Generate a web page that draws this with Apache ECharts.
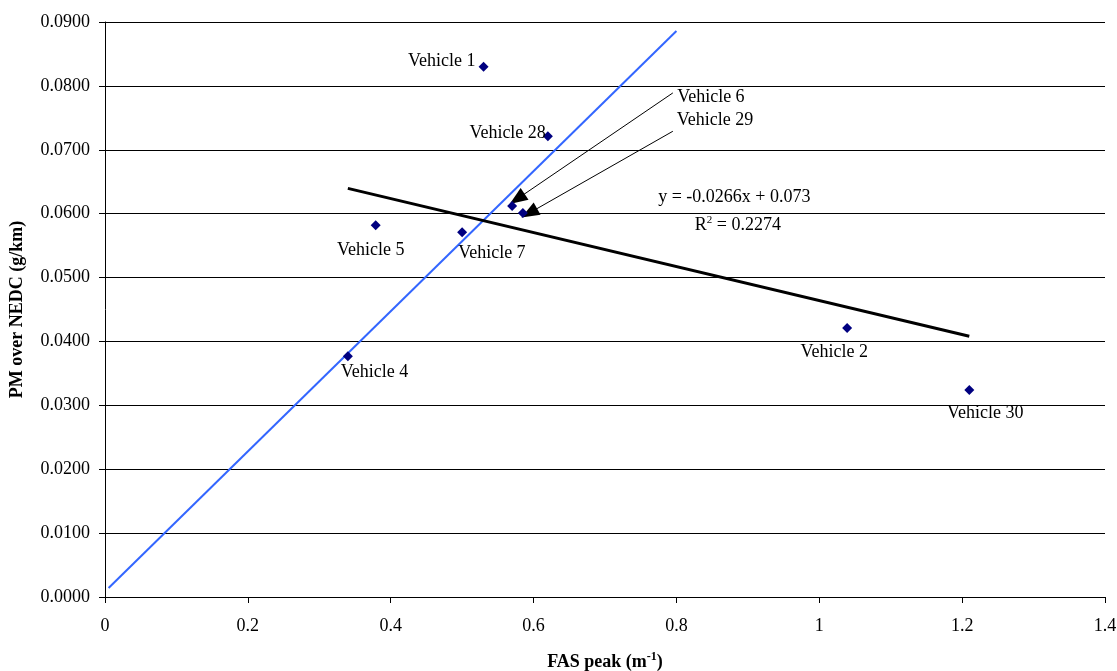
<!DOCTYPE html>
<html>
<head>
<meta charset="utf-8">
<script src="https://cdn.jsdelivr.net/npm/echarts@6/dist/echarts.min.js"></script>
<style>html,body{margin:0;padding:0;background:#fff}#c{width:1117px;height:671px}</style>
</head>
<body>
<div id="c"></div>
<script>
// ---- data ----
var vehicleNames = ['Vehicle 1','Vehicle 28','Vehicle 6','Vehicle 29','Vehicle 5','Vehicle 7','Vehicle 4','Vehicle 2','Vehicle 30'];
var fasPeak      = [0.530, 0.620, 0.570, 0.585, 0.379, 0.500, 0.340, 1.039, 1.210];
var pmNedc       = [0.0830, 0.0721, 0.0612, 0.0601, 0.0582, 0.0571, 0.0377, 0.0421, 0.0324];
// linear trend: y = -0.0266x + 0.073, drawn over the data x range
var trendSlope = -0.0266, trendIntercept = 0.073;
// blue reference line end points
var blueLineX = [0.005, 0.800];
var blueLineY = [0.0014, 0.0886];
// arrows (start -> tip) for Vehicle 6 and Vehicle 29
var arrow6  = [[0.795, 0.0789], [0.577, 0.0623]];
var arrow29 = [[0.795, 0.0729], [0.594, 0.0601]];
var xTicks = [0, 0.2, 0.4, 0.6, 0.8, 1, 1.2, 1.4];
var yTicks = [0, 0.01, 0.02, 0.03, 0.04, 0.05, 0.06, 0.07, 0.08, 0.09];

// label placement (style only)
var labelPlace = {
  'Vehicle 1':  {align:'right',  off:[-8,-5]},
  'Vehicle 28': {align:'right',  off:[-2,-3]},
  'Vehicle 6':  {align:'left',   off:[165,-109]},
  'Vehicle 29': {align:'left',   off:[154,-93]},
  'Vehicle 5':  {align:'center', off:[-5,25]},
  'Vehicle 7':  {align:'left',   off:[-4,21]},
  'Vehicle 4':  {align:'left',   off:[-7,16]},
  'Vehicle 2':  {align:'center', off:[-13,24]},
  'Vehicle 30': {align:'center', off:[16,23]}
};

var FONT = '"Liberation Serif", "Times New Roman", serif';

var scatterData = vehicleNames.map(function(n, i){
  var p = labelPlace[n];
  return {
    name: n,
    value: [fasPeak[i], pmNedc[i]],
    label: {show:true, formatter:n, position:'inside', offset:p.off, align:p.align,
            verticalAlign:'middle', color:'#000', fontFamily:FONT, fontSize:18}
  };
});

var xmin = Math.min.apply(null, fasPeak), xmax = Math.max.apply(null, fasPeak);
var trendData = [[xmin, trendSlope*xmin + trendIntercept],[xmax, trendSlope*xmax + trendIntercept]];
var blueData = blueLineX.map(function(x,i){return [x, blueLineY[i]];});

var chart = echarts.init(document.getElementById('c'));
chart.setOption({
  animation:false,
  backgroundColor:'#fff',
  grid:{left:105, right:12, top:22, bottom:74, containLabel:false, outerBoundsMode:'none'},
  xAxis:{
    type:'value', min:0, max:1.4, interval:0.2,
    axisLine:{show:true, lineStyle:{color:'#000', width:1}},
    axisTick:{show:true, inside:false, length:6, lineStyle:{color:'#000'}},
    splitLine:{show:false},
    axisLabel:{color:'#000', fontFamily:FONT, fontSize:18, margin:20},
    name:'{b|FAS peak (m}{s|-1}{b|)}',
    nameLocation:'middle', nameGap:54,
    nameTextStyle:{
      rich:{
        b:{fontFamily:FONT, fontSize:18, fontWeight:'bold', color:'#000'},
        s:{fontFamily:FONT, fontSize:12, fontWeight:'bold', color:'#000', verticalAlign:'top', padding:[0,0,10,0]}
      }
    }
  },
  yAxis:{
    type:'value', min:0, max:0.09, interval:0.01,
    axisLine:{show:true, lineStyle:{color:'#000', width:1}},
    axisTick:{show:true, inside:false, length:6, lineStyle:{color:'#000'}},
    splitLine:{show:true, lineStyle:{color:'#000', width:1}},
    axisLabel:{color:'#000', fontFamily:FONT, fontSize:18, margin:15,
               formatter:function(v){return v.toFixed(4);}},
    name:'PM over NEDC (g/km)', nameLocation:'middle', nameGap:79, nameRotate:90,
    nameTextStyle:{fontFamily:FONT, fontSize:18, fontWeight:'bold', color:'#000'}
  },
  series:[
    {
      type:'line', data:blueData, symbol:'none', silent:true,
      lineStyle:{color:'#3366FF', width:2}, z:3
    },
    {
      type:'line', data:trendData, symbol:'none', silent:true,
      lineStyle:{color:'#000', width:3}, z:3,
      markPoint:{
        symbol:'circle', symbolSize:0, silent:true,
        data:[
          {coord:[0.881, 0.0625], label:{show:true, formatter:'y = -0.0266x + 0.073', color:'#000', fontFamily:FONT, fontSize:18, position:'inside'}},
          {coord:[0.886, 0.0582], label:{show:true, formatter:'{n|R}{s|2}{n| = 0.2274}', position:'inside',
            rich:{n:{color:'#000', fontFamily:FONT, fontSize:18}, s:{color:'#000', fontFamily:FONT, fontSize:11, verticalAlign:'top', padding:[0,0,10,0]}}}}
        ]
      }
    },
    {
      type:'scatter', data:scatterData, symbol:'diamond', symbolSize:10,
      itemStyle:{color:'#000080', opacity:1}, z:5,
      markLine:{
        silent:true, symbol:['none','triangle'], symbolSize:[14,18],
        lineStyle:{color:'#000', width:1, type:'solid', opacity:1},
        label:{show:false},
        data:[
          [{coord:arrow6[0]},{coord:arrow6[1]}],
          [{coord:arrow29[0]},{coord:arrow29[1]}]
        ]
      }
    }
  ]
});
</script>
</body>
</html>
